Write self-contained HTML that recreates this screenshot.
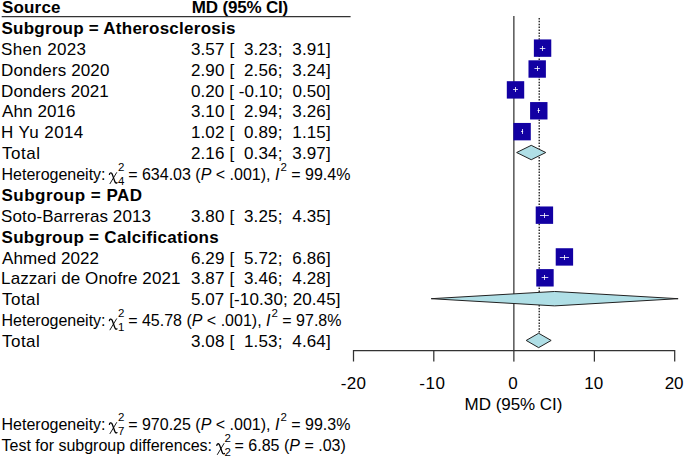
<!DOCTYPE html><html><head><meta charset="utf-8"><style>
html,body{margin:0;padding:0;background:#fff;}
svg{display:block;font-family:"Liberation Sans",sans-serif;}
text{white-space:pre;}
</style></head><body>
<svg width="685" height="458" viewBox="0 0 685 458">
<line x1="1.7" y1="16.5" x2="350.6" y2="16.5" stroke="#333" stroke-width="1.25"/>
<line x1="513.90" y1="16" x2="513.90" y2="361.6" stroke="#000" stroke-width="1"/>
<line x1="539.20" y1="17.9" x2="539.20" y2="340" stroke="#000" stroke-width="1.2" stroke-dasharray="1.5 1.4"/>
<path d="M353.5 361.6V350.5H674.7V361.6" fill="none" stroke="#333" stroke-width="1.25"/>
<line x1="433.80" y1="350.5" x2="433.80" y2="361.6" stroke="#333" stroke-width="1.25"/>
<line x1="594.40" y1="350.5" x2="594.40" y2="361.6" stroke="#333" stroke-width="1.25"/>
<rect x="533.87" y="39.43" width="17.4" height="17.4" fill="#1200a3"/>
<line x1="539.84" y1="48.50" x2="545.30" y2="48.50" stroke="#fff" stroke-width="1" stroke-opacity="0.8"/>
<line x1="542.50" y1="46.00" x2="542.50" y2="51.00" stroke="#fff" stroke-width="1" stroke-opacity="0.8"/>
<rect x="528.49" y="60.31" width="17.4" height="17.4" fill="#1200a3"/>
<line x1="534.46" y1="68.50" x2="539.92" y2="68.50" stroke="#fff" stroke-width="1" stroke-opacity="0.8"/>
<line x1="537.50" y1="66.00" x2="537.50" y2="71.00" stroke="#fff" stroke-width="1" stroke-opacity="0.8"/>
<rect x="506.81" y="81.19" width="17.4" height="17.4" fill="#1200a3"/>
<line x1="513.10" y1="89.50" x2="517.91" y2="89.50" stroke="#fff" stroke-width="1" stroke-opacity="0.8"/>
<line x1="515.50" y1="87.00" x2="515.50" y2="92.00" stroke="#fff" stroke-width="1" stroke-opacity="0.8"/>
<rect x="530.09" y="102.07" width="17.4" height="17.4" fill="#1200a3"/>
<line x1="537.51" y1="110.50" x2="540.08" y2="110.50" stroke="#fff" stroke-width="1" stroke-opacity="0.8"/>
<line x1="538.50" y1="108.00" x2="538.50" y2="113.00" stroke="#fff" stroke-width="1" stroke-opacity="0.8"/>
<rect x="513.39" y="122.95" width="17.4" height="17.4" fill="#1200a3"/>
<line x1="521.05" y1="131.50" x2="523.13" y2="131.50" stroke="#fff" stroke-width="1" stroke-opacity="0.8"/>
<line x1="522.50" y1="129.00" x2="522.50" y2="134.00" stroke="#fff" stroke-width="1" stroke-opacity="0.8"/>
<polygon points="516.63,152.53 531.24,145.33 545.78,152.53 531.24,159.73" fill="#b0dfe6" stroke="#222" stroke-width="1"/>
<text x="1.5" y="180.06" font-size="16.0">Heterogeneity: <tspan font-family="Liberation Serif" font-style="italic" font-size="16.5" fill-opacity="0">&#967;</tspan><tspan font-size="11.5" dy="-9.3" dx="0.8">2</tspan><tspan font-size="11.5" dx="-6.39" dy="14.3">4</tspan><tspan dy="-5.0" dx="-0.8"> = 634.03 (</tspan><tspan font-style="italic">P</tspan> &lt; .001), <tspan font-style="italic">I</tspan><tspan font-size="11.5" dy="-9.5" dx="1.0">2</tspan><tspan dy="9.5"> = 99.4%</tspan></text>
<g transform="translate(109.00,172.06)" fill="none" stroke="#000" stroke-linecap="round"><path d="M0.4,2.4 C0.7,0.9 1.9,0.3 2.8,1.4 C3.6,2.6 5.0,7.6 6.0,9.8 C6.5,10.9 7.2,11.3 8.0,10.6" stroke-width="1.3"/><path d="M7.6,0.6 L1.0,11.6" stroke-width="0.9"/></g>
<rect x="535.71" y="206.47" width="17.4" height="17.4" fill="#1200a3"/>
<line x1="540.00" y1="215.50" x2="548.83" y2="215.50" stroke="#fff" stroke-width="1" stroke-opacity="0.8"/>
<line x1="544.50" y1="213.00" x2="544.50" y2="218.00" stroke="#fff" stroke-width="1" stroke-opacity="0.8"/>
<rect x="555.71" y="248.23" width="17.4" height="17.4" fill="#1200a3"/>
<line x1="559.83" y1="257.50" x2="568.99" y2="257.50" stroke="#fff" stroke-width="1" stroke-opacity="0.8"/>
<line x1="564.50" y1="255.00" x2="564.50" y2="260.00" stroke="#fff" stroke-width="1" stroke-opacity="0.8"/>
<rect x="536.28" y="269.11" width="17.4" height="17.4" fill="#1200a3"/>
<line x1="541.68" y1="277.50" x2="548.27" y2="277.50" stroke="#fff" stroke-width="1" stroke-opacity="0.8"/>
<line x1="544.50" y1="275.00" x2="544.50" y2="280.00" stroke="#fff" stroke-width="1" stroke-opacity="0.8"/>
<polygon points="431.19,298.69 554.61,291.49 678.11,298.69 554.61,305.89" fill="#b0dfe6" stroke="#222" stroke-width="1"/>
<text x="1.5" y="326.22" font-size="16.0">Heterogeneity: <tspan font-family="Liberation Serif" font-style="italic" font-size="16.5" fill-opacity="0">&#967;</tspan><tspan font-size="11.5" dy="-9.3" dx="0.8">2</tspan><tspan font-size="11.5" dx="-6.39" dy="14.3">1</tspan><tspan dy="-5.0" dx="-0.8"> = 45.78 (</tspan><tspan font-style="italic">P</tspan> &lt; .001), <tspan font-style="italic">I</tspan><tspan font-size="11.5" dy="-9.5" dx="1.0">2</tspan><tspan dy="9.5"> = 97.8%</tspan></text>
<g transform="translate(109.00,318.22)" fill="none" stroke="#000" stroke-linecap="round"><path d="M0.4,2.4 C0.7,0.9 1.9,0.3 2.8,1.4 C3.6,2.6 5.0,7.6 6.0,9.8 C6.5,10.9 7.2,11.3 8.0,10.6" stroke-width="1.3"/><path d="M7.6,0.6 L1.0,11.6" stroke-width="0.9"/></g>
<polygon points="526.19,340.45 538.63,333.25 551.16,340.45 538.63,347.65" fill="#b0dfe6" stroke="#222" stroke-width="1"/>
<text id="h_src" x="1.90" y="13.10" font-size="17.0" font-weight="bold" textLength="58.60" lengthAdjust="spacing">Source</text>
<text id="h_md" x="191.80" y="13.10" font-size="17.0" font-weight="bold" textLength="96.47" lengthAdjust="spacing">MD (95% CI)</text>
<text id="r0" x="1.50" y="33.90" font-size="17.0" font-weight="bold" textLength="233.95" lengthAdjust="spacing">Subgroup = Atherosclerosis</text>
<text id="r1" x="1.10" y="54.78" font-size="17.0" textLength="84.95" lengthAdjust="spacing">Shen 2023</text>
<text id="v1" x="190.90" y="54.78" font-size="17.0" textLength="139.78" lengthAdjust="spacing">3.57 [  3.23;  3.91]</text>
<text id="r2" x="1.10" y="75.66" font-size="17.0" textLength="108.34" lengthAdjust="spacing">Donders 2020</text>
<text id="v2" x="190.90" y="75.66" font-size="17.0" textLength="139.78" lengthAdjust="spacing">2.90 [  2.56;  3.24]</text>
<text id="r3" x="1.10" y="96.54" font-size="17.0" textLength="107.69" lengthAdjust="spacing">Donders 2021</text>
<text id="v3" x="190.90" y="96.54" font-size="17.0" textLength="139.67" lengthAdjust="spacing">0.20 [ -0.10;  0.50]</text>
<text id="r4" x="2.10" y="117.42" font-size="17.0" textLength="73.48" lengthAdjust="spacing">Ahn 2016</text>
<text id="v4" x="190.90" y="117.42" font-size="17.0" textLength="139.78" lengthAdjust="spacing">3.10 [  2.94;  3.26]</text>
<text id="r5" x="1.10" y="138.30" font-size="17.0" textLength="82.24" lengthAdjust="spacing">H Yu 2014</text>
<text id="v5" x="190.90" y="138.30" font-size="17.0" textLength="139.78" lengthAdjust="spacing">1.02 [  0.89;  1.15]</text>
<text id="r6" x="2.10" y="159.18" font-size="17.0" textLength="37.92" lengthAdjust="spacing">Total</text>
<text id="v6" x="190.90" y="159.18" font-size="17.0" textLength="139.78" lengthAdjust="spacing">2.16 [  0.34;  3.97]</text>
<text id="r8" x="1.50" y="200.94" font-size="17.0" font-weight="bold" textLength="140.51" lengthAdjust="spacing">Subgroup = PAD</text>
<text id="r9" x="1.10" y="221.82" font-size="17.0" textLength="149.86" lengthAdjust="spacing">Soto-Barreras 2013</text>
<text id="v9" x="190.90" y="221.82" font-size="17.0" textLength="139.78" lengthAdjust="spacing">3.80 [  3.25;  4.35]</text>
<text id="r10" x="1.50" y="242.70" font-size="17.0" font-weight="bold" textLength="217.26" lengthAdjust="spacing">Subgroup = Calcifications</text>
<text id="r11" x="2.10" y="263.58" font-size="17.0" textLength="96.85" lengthAdjust="spacing">Ahmed 2022</text>
<text id="v11" x="190.90" y="263.58" font-size="17.0" textLength="139.78" lengthAdjust="spacing">6.29 [  5.72;  6.86]</text>
<text id="r12" x="1.10" y="284.46" font-size="17.0" textLength="179.35" lengthAdjust="spacing">Lazzari de Onofre 2021</text>
<text id="v12" x="190.90" y="284.46" font-size="17.0" textLength="139.78" lengthAdjust="spacing">3.87 [  3.46;  4.28]</text>
<text id="r13" x="2.10" y="305.34" font-size="17.0" textLength="37.67" lengthAdjust="spacing">Total</text>
<text id="v13" x="190.90" y="305.34" font-size="17.0" textLength="149.56" lengthAdjust="spacing">5.07 [-10.30; 20.45]</text>
<text id="r15" x="2.10" y="347.10" font-size="17.0" textLength="37.67" lengthAdjust="spacing">Total</text>
<text id="v15" x="190.90" y="347.10" font-size="17.0" textLength="139.78" lengthAdjust="spacing">3.08 [  1.53;  4.64]</text>
<text id="t-20" x="353.30" y="388.60" font-size="17.0" text-anchor="middle" textLength="25.18" lengthAdjust="spacing">-20</text>
<text id="t-10" x="432.20" y="388.60" font-size="17.0" text-anchor="middle" textLength="25.78" lengthAdjust="spacing">-10</text>
<text id="t0" x="512.90" y="388.60" font-size="17.0" text-anchor="middle">0</text>
<text id="t10" x="593.70" y="388.60" font-size="17.0" text-anchor="middle">10</text>
<text id="t20" x="674.10" y="388.60" font-size="17.0" text-anchor="middle">20</text>
<text id="xl" x="513.50" y="409.80" font-size="17.0" text-anchor="middle" textLength="97.79" lengthAdjust="spacing">MD (95% CI)</text>
<text x="1.5" y="430.00" font-size="16.0">Heterogeneity: <tspan font-family="Liberation Serif" font-style="italic" font-size="16.5" fill-opacity="0">&#967;</tspan><tspan font-size="11.5" dy="-9.3" dx="0.8">2</tspan><tspan font-size="11.5" dx="-6.39" dy="14.3">7</tspan><tspan dy="-5.0" dx="-0.8"> = 970.25 (</tspan><tspan font-style="italic">P</tspan> &lt; .001), <tspan font-style="italic">I</tspan><tspan font-size="11.5" dy="-9.5" dx="1.0">2</tspan><tspan dy="9.5"> = 99.3%</tspan></text>
<g transform="translate(109.00,422.00)" fill="none" stroke="#000" stroke-linecap="round"><path d="M0.4,2.4 C0.7,0.9 1.9,0.3 2.8,1.4 C3.6,2.6 5.0,7.6 6.0,9.8 C6.5,10.9 7.2,11.3 8.0,10.6" stroke-width="1.3"/><path d="M7.6,0.6 L1.0,11.6" stroke-width="0.9"/></g>
<g transform="translate(216.40,442.90)" fill="none" stroke="#000" stroke-linecap="round"><path d="M0.4,2.4 C0.7,0.9 1.9,0.3 2.8,1.4 C3.6,2.6 5.0,7.6 6.0,9.8 C6.5,10.9 7.2,11.3 8.0,10.6" stroke-width="1.3"/><path d="M7.6,0.6 L1.0,11.6" stroke-width="0.9"/></g>
<text x="1.5" y="450.9" font-size="16.0">Test for subgroup differences: <tspan font-family="Liberation Serif" font-style="italic" font-size="16.5" fill-opacity="0">&#967;</tspan><tspan font-size="11.5" dy="-9.3" dx="0.8">2</tspan><tspan font-size="11.5" dx="-6.39" dy="14.3">2</tspan><tspan dy="-5.0" dx="-0.8"> = 6.85 (</tspan><tspan font-style="italic">P</tspan> = .03)</text>
</svg></body></html>
